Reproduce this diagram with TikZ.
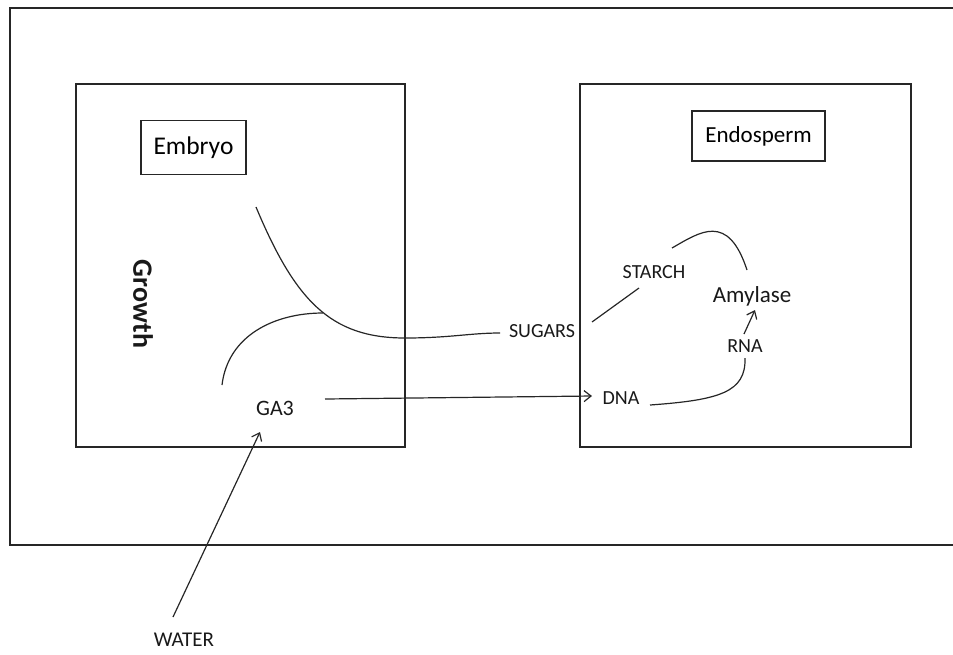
\documentclass[tikz,border=0pt]{standalone}
\usepackage{fontspec}
\setmainfont{Carlito}
\usetikzlibrary{arrows.meta}
\tikzset{
  ln/.style={draw=black!85, line width=1.2pt},
  arr/.style={ln, -{Straight Barb[length=7pt,width=11pt,line width=1.2pt]}},
  lbl/.style={inner sep=1pt, text=black!90, font=\fontsize{20}{23}\selectfont},
  titlebox/.style={draw=black!85, line width=1.2pt, fill=white, inner sep=0pt}
}
\begin{document}
\begin{tikzpicture}[x=1pt,y=-1pt]
\useasboundingbox (0,0) rectangle (953,654);
% outer frame (open on the right)
\draw[ln] (953,8) -- (10,8) -- (10,545) -- (953,545);
% compartments
\draw[ln] (76,84) rectangle (405,447);
\draw[ln] (580,84) rectangle (911,447);
% title boxes
\node[titlebox, minimum width=105pt, minimum height=54pt, font=\fontsize{25.5}{29}\selectfont] (embryo) at (193.5,147.5) {Embryo};
\node[titlebox, minimum width=133pt, minimum height=50pt, font=\fontsize{23}{27}\selectfont] (endo) at (758.5,136) {Endosperm};
% labels
\node[lbl, rotate=-90, font=\fontsize{28}{31}\selectfont\bfseries] (growth) at (143,304) {Growth};
\node[lbl, font=\fontsize{22}{25}\selectfont] (ga3) at (275,408) {GA3};
\node[lbl, font=\fontsize{21}{24}\selectfont] (water) at (184,640) {WATER};
\node[lbl, fill=white, inner sep=4pt] (sugars) at (542,331) {SUGARS};
\node[lbl] (starch) at (654,272) {STARCH};
\node[lbl, font=\fontsize{23}{26}\selectfont] (amylase) at (752,296) {Amylase};
\node[lbl] (rna) at (745,346) {RNA};
\node[lbl] (dna) at (621,398) {DNA};
% connector end points
\coordinate (g1) at (256,207);
\coordinate (g2) at (405,338);
\coordinate (s0) at (500,333);
\coordinate (j1) at (222,385);
\coordinate (j2) at (323,313);
\coordinate (a1) at (325,399);
\coordinate (a2) at (592,396);
\coordinate (w1) at (173,617);
\coordinate (w2) at (260,432);
\coordinate (d1) at (650,405);
\coordinate (d2) at (745,358);
\coordinate (r1) at (744,334);
\coordinate (r2) at (755,310);
\coordinate (st1) at (592,322);
\coordinate (st2) at (639,288);
\coordinate (st3) at (672,248);
\coordinate (st4) at (747,270);
% connectors
\draw[ln] (g1) .. controls (295,300) and (330,338) .. (g2)
                .. controls (450,338) and (470,333) .. (s0);
\draw[ln] (j1) .. controls (228,335) and (275,313) .. (j2);
\draw[arr] (a1) -- (a2);
\draw[arr] (w1) -- (w2);
\draw[ln] (d1) .. controls (720,400) and (746,392) .. (d2);
\draw[arr] (r1) -- (r2);
\draw[ln] (st1) -- (st2);
\draw[ln] (st3) .. controls (700,232) and (728,212) .. (st4);
\end{tikzpicture}
\end{document}
